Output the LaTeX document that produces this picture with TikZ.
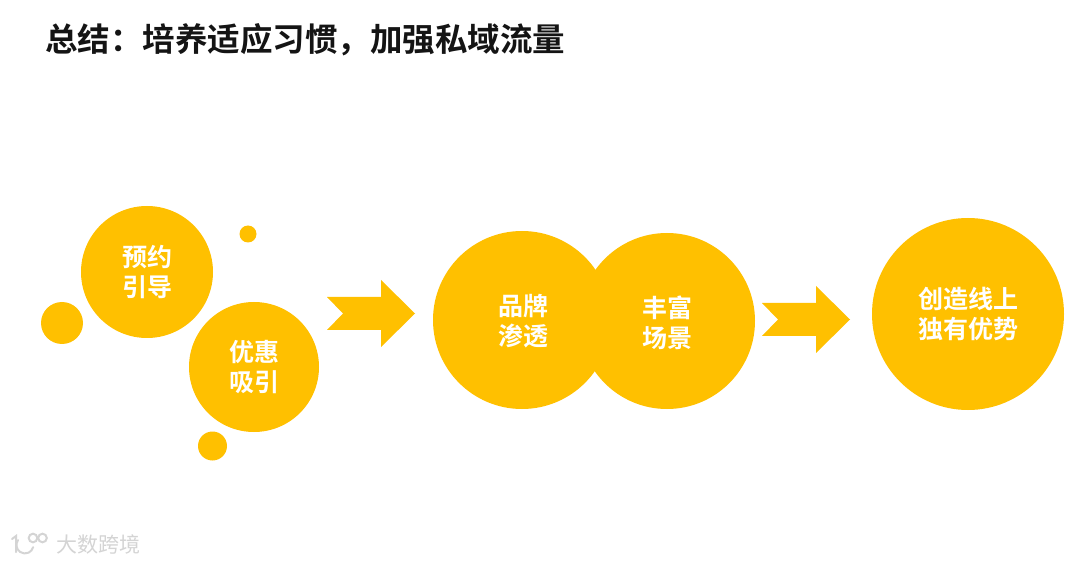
\documentclass[tikz,border=0pt]{standalone}
\usepackage{fontspec}
\newfontfamily\cjk{Noto Sans CJK SC}[BoldFont={Noto Sans CJK SC Bold}]
\definecolor{ballcol}{HTML}{FFC000}
\definecolor{markcol}{HTML}{D4D4D4}
\tikzset{
  blob/.style={circle,fill=ballcol,inner sep=0pt},
  ballnode/.style={blob,text=white,font=\cjk\bfseries\fontsize{25pt}{29.5pt}\selectfont,align=center},
  chevron/.style={fill=ballcol},
  markline/.style={draw=markcol,line width=2pt,line cap=round}
}
\begin{document}
\begin{tikzpicture}[x=1pt,y=-1pt]
  \useasboundingbox[fill=white] (0,0) rectangle (1080,564);
  \node[anchor=west,inner sep=0pt,font=\cjk\bfseries\fontsize{32.5pt}{38pt}\selectfont,text=black!92] (title) at (45,40) {总结：培养适应习惯，加强私域流量};
  % small dots
  \node[blob,minimum size=42pt] (dotA) at (62,323) {};
  \node[blob,minimum size=17pt] (dotB) at (248,234) {};
  \node[blob,minimum size=29pt] (dotC) at (212.5,446) {};
  % left pair
  \node[ballnode,minimum size=132pt] (booking) at (147,272) {预约\\引导};
  \node[ballnode,minimum size=130pt] (offer) at (254,367) {优惠\\吸引};
  % middle pair
  \node[blob,minimum size=178pt] (brandbg) at (522,320) {};
  \node[blob,minimum size=176pt] (scenebg) at (667,321) {};
  \node[ballnode] (brand) at (523,321) {品牌\\渗透};
  \node[ballnode] (scene) at (667,323) {丰富\\场景};
  % right
  \node[ballnode,minimum size=192pt] (online) at (968,314) {创造线上\\独有优势};
  % arrows
  \foreach \ax/\ay in {327/280,762/286}
    \fill[chevron] (\ax,\ay+17) -- (\ax+54,\ay+17) -- (\ax+54,\ay) -- (\ax+88,\ay+33.5) -- (\ax+54,\ay+67) -- (\ax+54,\ay+50) -- (\ax,\ay+50) -- (\ax+16,\ay+33.5) -- cycle;
  % watermark
  \draw[markline] (12,539) -- (16,536) -- (16,552);
  \draw[markline] (18,540.1) arc (215:15:8.5);
  \draw[markline] (33,538) circle (4.3);
  \draw[markline] (42.5,538) circle (4.3);
  \node[anchor=west,inner sep=0pt,font=\cjk\fontsize{21pt}{24pt}\selectfont,text=markcol] (mark) at (56,544) {大数跨境};
\end{tikzpicture}
\end{document}
